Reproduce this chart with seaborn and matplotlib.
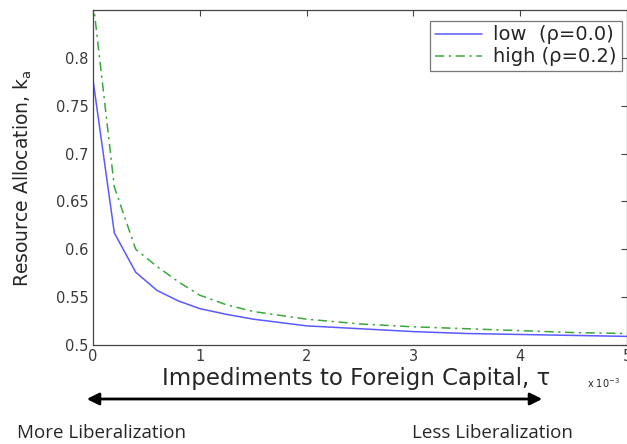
import matplotlib
matplotlib.use("Agg")
import matplotlib.pyplot as plt
import seaborn as sns
import pandas as pd

tau = [0, 0.2, 0.4, 0.6, 0.8, 1.0, 1.25, 1.5, 2.0, 2.5, 3.0, 3.5, 4.0, 4.5, 5.0]
low = [0.777, 0.617, 0.576, 0.557, 0.546, 0.538, 0.532, 0.527, 0.520, 0.517, 0.514, 0.512, 0.511, 0.510, 0.509]
high = [0.86, 0.665, 0.600, 0.582, 0.566, 0.552, 0.542, 0.535, 0.527, 0.522, 0.519, 0.517, 0.515, 0.513, 0.512]
labels = ["low  (\u03c1=0.0)", "high (\u03c1=0.2)"]
xticks = [0, 1, 2, 3, 4, 5]
yticks = [0.5, 0.55, 0.6, 0.65, 0.7, 0.75, 0.8]

sns.set_style("white")
plt.rcParams['font.family'] = ['DejaVu Sans']
plt.rcParams['mathtext.fontset'] = 'dejavusans'

fig = plt.figure(figsize=(6.27, 4.44), dpi=100)
ax = fig.add_axes([93/627, 1-345/444, 1.0-93/627, 335/444])

df_low = pd.DataFrame({"tau": tau, "k": low})
df_high = pd.DataFrame({"tau": tau, "k": high})
sns.lineplot(data=df_low, x="tau", y="k", ax=ax, color="#5a5aff", lw=1.1, label=labels[0])
sns.lineplot(data=df_high, x="tau", y="k", ax=ax, color="#3aa83a", lw=1.1,
             linestyle=(0, (6, 3, 1.5, 3)), label=labels[1])

ax.set_xlim(0, 5)
ax.set_ylim(0.5, 0.85)
ax.set_xticks(xticks)
ax.set_xticklabels([str(v) for v in xticks])
ax.set_yticks(yticks)
ax.set_yticklabels([f"{v:g}" for v in yticks])
ax.tick_params(direction="in", length=4, width=0.8, top=True, right=True,
               labelsize=10.5, labelcolor="#3a3a3a", color="#444444", pad=3)
for s in ax.spines.values():
    s.set_color("#444444")
    s.set_linewidth(0.9)

ax.set_xlabel("")
ax.set_ylabel("")
fig.text(23/627, 1-178/444, "Resource Allocation, k$_\\mathregular{a}$", fontsize=13.5,
         rotation=90, ha="center", va="center")

leg = ax.legend(loc="upper right", bbox_to_anchor=(0.9975, 0.98), fontsize=14,
                frameon=True, fancybox=False, edgecolor="#555555",
                borderpad=0.25, handlelength=2.4, labelspacing=0.15,
                handletextpad=0.6, borderaxespad=0.2)
leg.get_frame().set_linewidth(0.9)

fig.text(356/627, 1-385/444, "Impediments to Foreign Capital, \u03c4", fontsize=16.5,
         ha="center", va="baseline")
fig.text(587/627, 1-383/444, "x 10$^{-3}$", fontsize=7, ha="left", va="center")

fig.patches.append(matplotlib.patches.FancyArrowPatch(
    (84/627, 1-399/444), (545/627, 1-399/444), transform=fig.transFigure,
    arrowstyle="<|-|>", mutation_scale=18, lw=2, color="black"))

fig.text(17/627, 1-433/444, "More Liberalization", fontsize=13.5,
         family="Open Sans", ha="left", va="center")
fig.text(412/627, 1-433/444, "Less Liberalization", fontsize=13.5,
         family="Open Sans", ha="left", va="center")

fig.savefig("out.png", dpi=100)
